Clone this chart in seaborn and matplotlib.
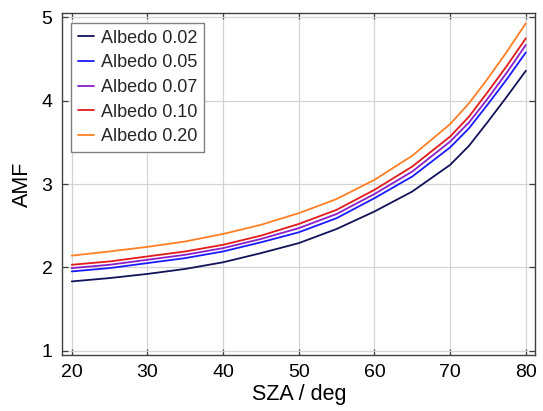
import numpy as np
import pandas as pd
import matplotlib
matplotlib.use("Agg")
import matplotlib.pyplot as plt
import seaborn as sns

# Solar zenith angles (deg)
sza = [20, 25, 30, 35, 40, 45, 50, 55, 60, 65, 70, 72.5, 75, 77.5, 80]

# Air mass factor per surface albedo
amf_002 = [1.83, 1.87, 1.92, 1.98, 2.06, 2.17, 2.29, 2.46, 2.67, 2.91, 3.23, 3.46, 3.75, 4.05, 4.36]
amf_005 = [1.95, 1.99, 2.05, 2.11, 2.19, 2.30, 2.42, 2.59, 2.83, 3.09, 3.44, 3.67, 3.96, 4.26, 4.58]
amf_007 = [1.99, 2.03, 2.09, 2.15, 2.23, 2.34, 2.47, 2.64, 2.88, 3.15, 3.51, 3.74, 4.03, 4.34, 4.67]
amf_010 = [2.03, 2.07, 2.13, 2.19, 2.27, 2.38, 2.52, 2.69, 2.93, 3.21, 3.57, 3.81, 4.11, 4.42, 4.75]
amf_020 = [2.14, 2.19, 2.245, 2.31, 2.40, 2.51, 2.65, 2.82, 3.05, 3.34, 3.72, 3.97, 4.27, 4.59, 4.93]

labels = ["Albedo 0.02", "Albedo 0.05", "Albedo 0.07", "Albedo 0.10", "Albedo 0.20"]
series = [amf_002, amf_005, amf_007, amf_010, amf_020]
colors = ["#12125a", "#1a1aff", "#8a1ec8", "#e21a1a", "#ff7f24"]

x_ticks = [20, 30, 40, 50, 60, 70, 80]
y_ticks = [1, 2, 3, 4, 5]

df = pd.DataFrame({
    "SZA": np.concatenate([sza] * len(series)),
    "AMF": np.concatenate(series),
    "Albedo": np.repeat(labels, len(sza)),
})

sns.set_theme(style="whitegrid")
plt.rcParams["font.family"] = ["Liberation Sans", "DejaVu Sans"]

fig = plt.figure(figsize=(5.43, 4.11), dpi=100)
ax = fig.add_axes([0.1147, 0.137, 0.8711, 0.8306])

sns.lineplot(data=df, x="SZA", y="AMF", hue="Albedo", hue_order=labels,
             palette=colors, linewidth=1.3, ax=ax, sort=False)

ax.set_xlim(18.75, 81.25)
ax.set_ylim(0.95, 5.05)
ax.set_xticks(x_ticks)
ax.set_yticks(y_ticks)
ax.set_xlabel("SZA / deg", fontsize=15.5, color="black", labelpad=2)
ax.set_ylabel("AMF", fontsize=15.5, color="black", labelpad=6)

ax.set_facecolor("white")
ax.grid(True, color="#d4d4d4", linewidth=0.9)
for sp in ax.spines.values():
    sp.set_visible(True)
    sp.set_color("#404040")
    sp.set_linewidth(1.0)

ax.tick_params(axis="both", which="major", direction="in", length=4, width=0.9,
               color="#404040", labelsize=14, labelcolor="black",
               top=True, right=True, bottom=True, left=True)
ax.tick_params(axis="x", pad=7)
ax.tick_params(axis="y", pad=7)

leg = ax.legend(loc="upper left", bbox_to_anchor=(0.018, 0.973), borderaxespad=0,
                fontsize=13, frameon=True, fancybox=False, framealpha=1,
                edgecolor="#808080", handlelength=0.9, handletextpad=0.35,
                labelspacing=0.42, borderpad=0.4, title=None)
leg.get_frame().set_linewidth(1.0)

fig.savefig("out.png", dpi=100)
